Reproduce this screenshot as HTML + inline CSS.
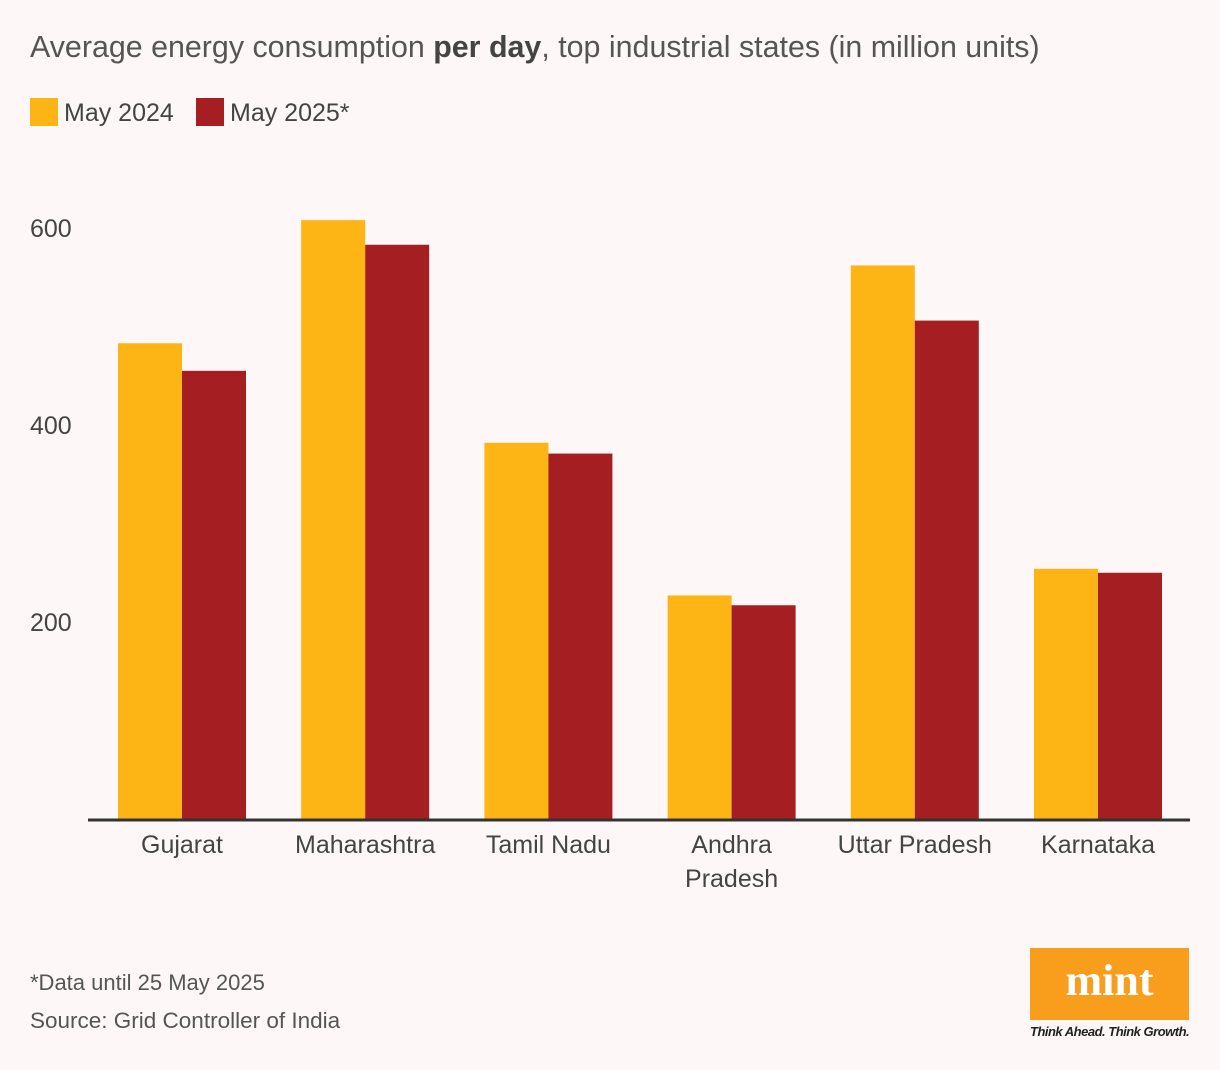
<!DOCTYPE html>
<html><head><meta charset="utf-8"><style>
body{margin:0;width:1220px;height:1070px;background:#fdf8f7;font-family:"Liberation Sans",sans-serif;position:relative;overflow:hidden;color:#444}
.a{position:absolute;white-space:nowrap}
</style></head><body>
<div class="a" style="left:30px;top:30px;font-size:30.4px;color:#555">Average energy consumption <b style="color:#444">per day</b>, top industrial states (in million units)</div>
<div class="a" style="left:30px;top:98px;font-size:25px;color:#444"><span style="display:inline-block;width:28px;height:28px;background:#fdb515;vertical-align:-5px;margin-right:6px"></span>May 2024</div>
<div class="a" style="left:196px;top:98px;font-size:25px;color:#444"><span style="display:inline-block;width:28px;height:28px;background:#a51e22;vertical-align:-5px;margin-right:6px"></span>May 2025*</div>
<svg class="a" style="left:0;top:0" width="1220" height="1070" id="chart"></svg>
<div class="a" style="left:30px;top:970px;font-size:22px;color:#555">*Data until 25 May 2025</div>
<div class="a" style="left:30px;top:1008px;font-size:22.5px;color:#555">Source: Grid Controller of India</div>
<div class="a" style="left:1030px;top:948px;width:159px;height:72px;background:#f99d1c;color:#fff;font-family:'Liberation Serif',serif;font-weight:bold;font-size:44px;text-align:center;line-height:66px">mint</div>
<div class="a" style="left:1030px;top:1024px;font-size:13px;font-style:italic;font-weight:bold;color:#222;letter-spacing:-0.5px">Think Ahead. Think Growth.</div>
<script>
const categories=["Gujarat","Maharashtra","Tamil Nadu","Andhra|Pradesh","Uttar Pradesh","Karnataka"];
const may2024=[483,608,382,227,562,254];
const may2025=[455,583,371,217,506,250];
const ticks=[200,400,600];
const svg=document.getElementById('chart');
const NS='http://www.w3.org/2000/svg';
const y0=819,k=0.985;
const y=v=>y0-v*k;
const cx=i=>182+i*183.2;
function mk(t,a){const e=document.createElementNS(NS,t);for(const n in a)e.setAttribute(n,a[n]);svg.appendChild(e);return e;}
ticks.forEach(t=>{const e=mk('text',{x:30,y:y(t)+9,'font-size':25,fill:'#444'});e.textContent=t;

});
categories.forEach((c,i)=>{
 const b1=mk('rect',{x:cx(i)-64,y:y(may2024[i]),width:64,height:may2024[i]*k,fill:'#fdb515'});
 
 
 const b2=mk('rect',{x:cx(i),y:y(may2025[i]),width:64,height:may2025[i]*k,fill:'#a51e22'});
 
 
 c.split('|').forEach((s,j)=>{const t=mk('text',{x:cx(i),y:853+j*34,'font-size':25,fill:'#444','text-anchor':'middle'});t.textContent=s;
 
 });
});
const ax=mk('line',{x1:88,x2:1190,y1:y0+1,y2:y0+1,stroke:'#333','stroke-width':3});


</script>
</body></html>
